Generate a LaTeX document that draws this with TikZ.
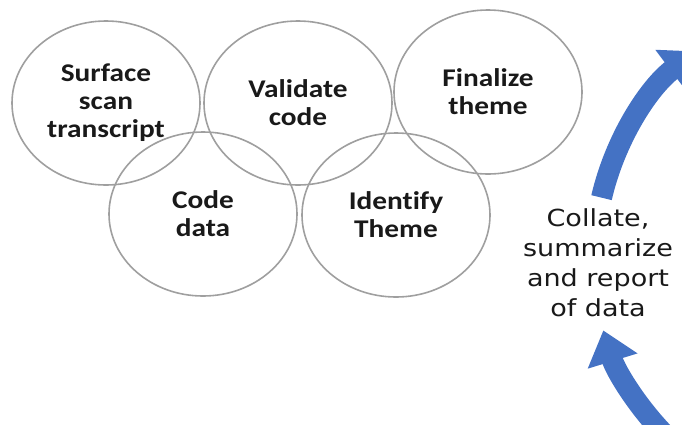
\documentclass[tikz,border=0pt]{standalone}
\usepackage{fontspec}
\newfontfamily\stepfont[FakeStretch=1.15,Ligatures=NoCommon]{Carlito}
\newfontfamily\notefont[FakeStretch=1.15]{DejaVu Sans}
\usetikzlibrary{shapes.geometric,arrows.meta}
\definecolor{cycleblue}{HTML}{4472C4}
\tikzset{stage/.style={ellipse,draw=gray!75,line width=1.6pt,minimum width=188pt,minimum height=164pt,
    align=center,text=black!90,font=\stepfont\bfseries\fontsize{25.5}{28}\selectfont},
  cycle/.style={cycleblue,line width=21pt,-{Triangle[width=50pt,length=32pt]}}}
\begin{document}
\begin{tikzpicture}[x=1pt,y=-1pt]
\useasboundingbox (0,0) rectangle (682,424);
\node[stage] (scan) at (106,103) {Surface\\scan\\transcript};
\node[stage] (valid) at (298,103) {Validate\\code};
\node[stage] (final) at (488,92) {Finalize\\theme};
\node[stage] (code) at (203,214) {Code\\data};
\node[stage] (ident) at (396,215) {Identify\\Theme};
\node[align=center,text=black!90,font=\notefont\fontsize{23.5}{30}\selectfont] (report) at (598,263) {Collate,\\summarize\\and report\\of data};
\coordinate (hub) at (850,255);
\begin{scope}
\clip (0,0) rectangle (682,424);
\draw[cycle] ([shift={(193:255)}]hub) arc[start angle=193,end angle=233,radius=255];
\draw[cycle] ([shift={(135:258)}]hub) arc[start angle=135,end angle=163,radius=258];
\end{scope}
\end{tikzpicture}
\end{document}
